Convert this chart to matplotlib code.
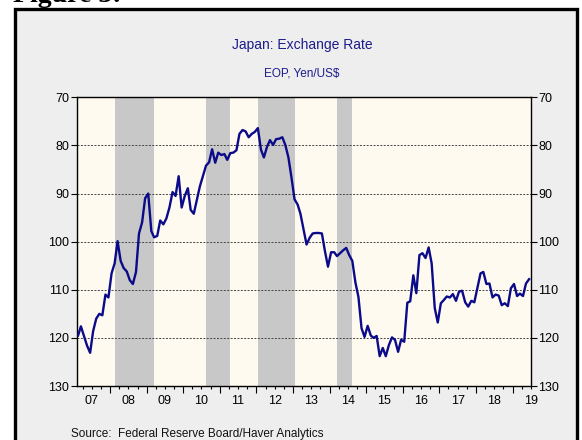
import numpy as np
import pandas as pd
import matplotlib
matplotlib.use("Agg")
import matplotlib.pyplot as plt
import matplotlib.dates as mdates
from matplotlib.patches import Rectangle
from datetime import datetime

# month-end yen per US$, Feb 2007 .. Jun 2019
yen = [
    119.5, 117.6, 119.6, 121.6, 123.1, 118.6, 116.0, 115.0, 115.3, 111.0, 111.6,          # 2007
    106.6, 104.5, 99.9, 104.0, 105.5, 106.2, 108.0, 108.8, 106.3, 98.3, 96.0, 91.0,       # 2008
    90.0, 97.8, 99.1, 98.8, 95.6, 96.4, 95.2, 92.9, 89.7, 90.5, 86.4, 92.9,               # 2009
    90.5, 88.9, 93.4, 94.2, 91.4, 88.5, 86.4, 84.2, 83.5, 80.8, 83.6, 81.5,               # 2010
    82.0, 81.8, 83.0, 81.6, 81.5, 81.0, 77.6, 76.8, 77.1, 78.3, 77.6, 77.2,               # 2011
    76.4, 80.9, 82.5, 80.3, 78.9, 79.9, 78.7, 78.6, 78.3, 79.9, 82.5, 86.6,               # 2012
    91.2, 92.3, 94.2, 97.5, 100.6, 99.2, 98.3, 98.2, 98.2, 98.3, 102.0, 105.2,            # 2013
    102.2, 102.2, 103.0, 102.4, 101.8, 101.3, 102.8, 104.0, 108.5, 111.5, 118.0, 119.8,   # 2014
    117.5, 119.5, 120.0, 119.6, 123.8, 122.1, 123.8, 121.5, 119.9, 120.4, 122.9, 120.4,   # 2015
    120.8, 112.7, 112.4, 107.0, 110.7, 102.8, 102.4, 103.4, 101.2, 104.5, 113.8, 116.8,   # 2016
    112.8, 112.1, 111.4, 111.6, 110.9, 112.3, 110.4, 110.2, 112.6, 113.5, 112.3, 112.6,   # 2017
    109.6, 106.6, 106.3, 108.8, 108.7, 111.6, 111.0, 111.2, 113.2, 112.8, 113.4, 109.7,   # 2018
    108.8, 111.3, 110.8, 111.3, 108.7, 107.8,                                             # 2019
]
months = pd.date_range("2007-02-01", periods=len(yen), freq="MS") + pd.Timedelta(days=14)

# shaded periods
shade_start = ["2008-02-15", "2010-08-15", "2012-01-15", "2014-03-15"]
shade_end = ["2009-03-15", "2011-04-15", "2013-01-15", "2014-08-15"]

years = list(range(2007, 2020))
year_labels = [f"{y % 100:02d}" for y in years]
yticks = [70, 80, 90, 100, 110, 120, 130]

navy = "#0b0b8a"
title_col = "#1c1c8c"
plt.rcParams["font.family"] = ["Liberation Sans", "DejaVu Sans"]

fig = plt.figure(figsize=(5.82, 4.40), dpi=100, facecolor="white")

# outer panel with black frame
fig.patches.append(Rectangle((14.5 / 582, -0.05), (577 - 14.5) / 582, 1.05 - 9.5 / 440,
                             transform=fig.transFigure, facecolor="#eeeeee",
                             edgecolor="black", lw=2.4, zorder=-5))
fig.text(13 / 582, 1 - 2 / 440, "Figure 3:", family="Liberation Serif", weight="bold",
         fontsize=20, va="baseline", ha="left")

ax = fig.add_axes([76.7 / 582, 1 - 386 / 440, (530.7 - 76.7) / 582, (386 - 97.3) / 440])
ax.set_facecolor("#fffaf0")

for s, e in zip(shade_start, shade_end):
    ax.axvspan(pd.Timestamp(s), pd.Timestamp(e), color="#c8c8c8", lw=0, zorder=1)

for v in yticks[1:-1]:
    ax.axhline(v, color="#444444", lw=0.7, ls=(0, (2, 1.5)), zorder=2)

ax.plot(months, yen, color=navy, lw=1.7, zorder=3)

ax.set_xlim(datetime(2007, 2, 1), datetime(2019, 7, 1))
ax.set_ylim(130, 70)

ax.set_yticks(yticks)
ax.tick_params(axis="y", which="both", left=True, right=True, labelleft=True, labelright=True,
               direction="out", length=4, width=0.8, pad=1.5, labelsize=9)

ax.xaxis.set_major_locator(mdates.YearLocator())
ax.xaxis.set_minor_locator(mdates.MonthLocator(bymonth=(4, 7, 10)))
ax.xaxis.set_major_formatter(plt.NullFormatter())
ax.tick_params(axis="x", which="major", direction="out", length=5, width=0.8)
ax.tick_params(axis="x", which="minor", direction="out", length=2.5, width=0.8)

for y, lab in zip(years, year_labels):
    ax.text(datetime(y, 7, 1), -0.03, lab, transform=ax.get_xaxis_transform(),
            ha="center", va="top", fontsize=9, clip_on=False)

for sp in ax.spines.values():
    sp.set_linewidth(1.0)

fig.text(302 / 582, 1 - 45 / 440, "Japan: Exchange Rate", color=title_col, fontsize=10,
         ha="center", va="center")
fig.text(302 / 582, 1 - 73 / 440, "EOP, Yen/US$", color=title_col, fontsize=8.5,
         ha="center", va="center")
fig.text(71 / 582, 1 - 434 / 440, "Source:  Federal Reserve Board/Haver Analytics",
         color="#111111", fontsize=8.5, ha="left", va="center")

fig.savefig("out.png", dpi=100, facecolor=fig.get_facecolor())
